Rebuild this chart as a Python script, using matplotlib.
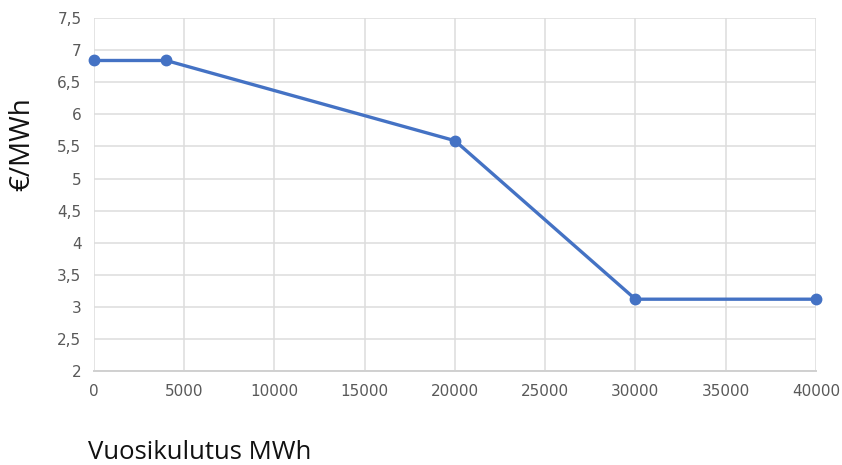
import numpy as np
import matplotlib
matplotlib.use("Agg")
import matplotlib.pyplot as plt
from matplotlib.ticker import FuncFormatter

# consumption (MWh) vs price (EUR/MWh)
kulutus = [0, 4000, 20000, 30000, 40000]
hinta = [6.84, 6.84, 5.59, 3.12, 3.12]

fig = plt.figure(figsize=(8.42, 4.65), dpi=100)
ax = fig.add_axes([0.1116, 0.202, 0.8574, 0.759])

ax.plot(kulutus, hinta, color="#4472C4", lw=2.4, marker="o", ms=7.5, zorder=3, clip_on=False)

ax.set_xlim(0, 40000)
ax.set_ylim(2, 7.5)
ax.set_xticks(np.arange(0, 40001, 5000))
ax.set_yticks(np.arange(2, 7.51, 0.5))
ax.yaxis.set_major_formatter(FuncFormatter(lambda v, p: ("%g" % v).replace(".", ",")))
ax.grid(True, color="#dddddd", lw=1.1)
ax.set_axisbelow(True)
for s in ["top", "right", "left"]:
    ax.spines[s].set_visible(False)
ax.spines["bottom"].set_color("#d0d0d0")
ax.spines["bottom"].set_linewidth(1.4)
ax.tick_params(length=0, colors="#595959", labelsize=11, pad=9)
for lab in ax.get_xticklabels() + ax.get_yticklabels():
    lab.set_family(["Liberation Sans Narrow", "DejaVu Sans"])

fig.text(0.026, 0.69, "€/MWh", rotation=90, fontsize=20, family="Open Sans",
         ha="center", va="center", color="#111111")
fig.text(0.104, 0.0, "Vuosikulutus MWh", fontsize=18.5, family="Open Sans",
         ha="left", va="bottom", color="#111111")

fig.savefig("out.png", dpi=100)
